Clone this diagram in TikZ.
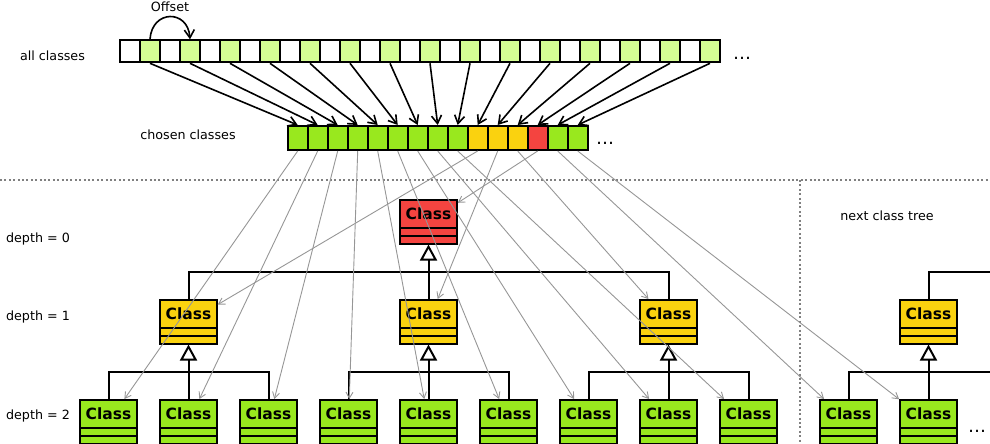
\documentclass[tikz,border=0pt]{standalone}
\usepackage{fontspec}
\setmainfont{DejaVu Sans}
\usetikzlibrary{arrows.meta}

\definecolor{topgreen}{HTML}{D5FE94}
\definecolor{selgreen}{HTML}{99E81E}
\definecolor{selyellow}{HTML}{FAD20F}
\definecolor{selred}{HTML}{F44440}
\definecolor{mapgray}{HTML}{969696}

\newcommand{\classfont}{\fontsize{15.5}{18}\selectfont\bfseries}

\begin{document}
\begin{tikzpicture}[x=1pt,y=-1pt,
  cell/.style={draw,line width=2pt,minimum width=20pt,minimum height=22pt,inner sep=0pt},
  classbox/.style={draw,line width=2pt,minimum width=56.6pt,inner sep=0pt,
    text height=19.3pt,text depth=24.2pt,font=\classfont,
    path picture={\draw[line width=2pt]
      ([yshift=-27.5pt]path picture bounding box.north west) -- ([yshift=-27.5pt]path picture bounding box.north east)
      ([yshift=-35.5pt]path picture bounding box.north west) -- ([yshift=-35.5pt]path picture bounding box.north east);}},
  selarrow/.style={line width=1.6pt,-{Straight Barb[length=8pt,width=10pt]}},
  maparrow/.style={mapgray,line width=0.9pt,-{Straight Barb[length=6pt,width=7pt]}},
  tree/.style={line width=2pt},
  inherit/.style={line width=2pt,-{Triangle[length=16pt,width=17pt,fill=white]}},
  divider/.style={gray,line width=2pt,dash pattern=on 2pt off 2.4pt},
  lbl/.style={font=\fontsize{12.7}{15}\selectfont,anchor=base},
  more/.style={font=\fontsize{18}{20}\selectfont,anchor=base}]
\useasboundingbox (0,0) rectangle (990,444);

% all classes, every second one is taken
\foreach \i in {0,...,29} {
  \ifodd\i \def\cellfill{topgreen}\else \def\cellfill{white}\fi
  \node[cell,fill=\cellfill] (a\i) at (130+20*\i,51.3) {};
}
\node[lbl] (all) at (52.5,60) {all classes};
\node[more] (more1) at (742,59.5) {\dots};
\draw[selarrow] (a1.north) .. controls +(2,-30) and +(-2,-30) .. (a3.north);
\node[lbl] (offset) at (170,11.7) {Offset};

% chosen classes
\foreach \c [count=\k from 0] in {selgreen,selgreen,selgreen,selgreen,selgreen,selgreen,selgreen,selgreen,selgreen,selyellow,selyellow,selyellow,selred,selgreen,selgreen}
  \node[cell,minimum height=24pt,fill=\c] (b\k) at (297.7+20*\k,138) {};
\node[lbl] (chosen) at (188,139) {chosen classes};
\node[more] (more2) at (605,144.5) {\dots};
\foreach \k in {0,...,14} {
  \pgfmathtruncatemacro{\j}{2*\k+1}
  \draw[selarrow] (a\j.south) -- (b\k.north);
}

% separators
\draw[divider] (0,180) -- (990,180);
\draw[divider] (800,180) -- (800,444);

% class trees
\node[lbl] (d0) at (38,242) {depth = 0};
\node[lbl] (d1) at (38,320) {depth = 1};
\node[lbl] (d2) at (38,419) {depth = 2};
\node[lbl] (next) at (887,220) {next class tree};

\node[classbox,fill=selred] (r) at (428.5,221.8) {Class};
\foreach \x [count=\n] in {188.5,428.5,668.5,928.5}
  \node[classbox,fill=selyellow] (y\n) at (\x,321.8) {Class};
\foreach \x [count=\n] in {108.5,188.5,268.5,348.5,428.5,508.5,588.5,668.5,748.5,848.5,928.5}
  \node[classbox,fill=selgreen] (g\n) at (\x,421.8) {Class};
\node[more] (more3) at (977,432.5) {\dots};

\coordinate (bus1) at (0,271.7);
\coordinate (bus2) at (0,372.3);
\draw[tree] (y1.north) |- (y3.north |- bus1) -- (y3.north);
\draw[inherit] (y2.north) -- (r.south);
\foreach \a/\b/\c/\p in {1/2/3/1,4/5/6/2,7/8/9/3} {
  \draw[tree] (g\a.north) |- (g\c.north |- bus2) -- (g\c.north);
  \draw[inherit] (g\b.north) -- (y\p.south);
}
\coordinate (next1) at (995,271.7);
\coordinate (next2) at (995,372.3);
\draw[tree] (y4.north) |- (next1);
\draw[tree] (g10.north) |- (next2);
\draw[inherit] (g11.north) -- (y4.south);

% where the chosen classes go
\foreach \k/\t in {0/g1,1/g2,2/g3,3/g4,4/g5,5/g6,6/g7,7/g8,8/g9,9/y1,10/y2,11/y3,12/r,13/g10,14/g11}
  \draw[maparrow] (b\k.south) -- (\t);
\end{tikzpicture}
\end{document}
